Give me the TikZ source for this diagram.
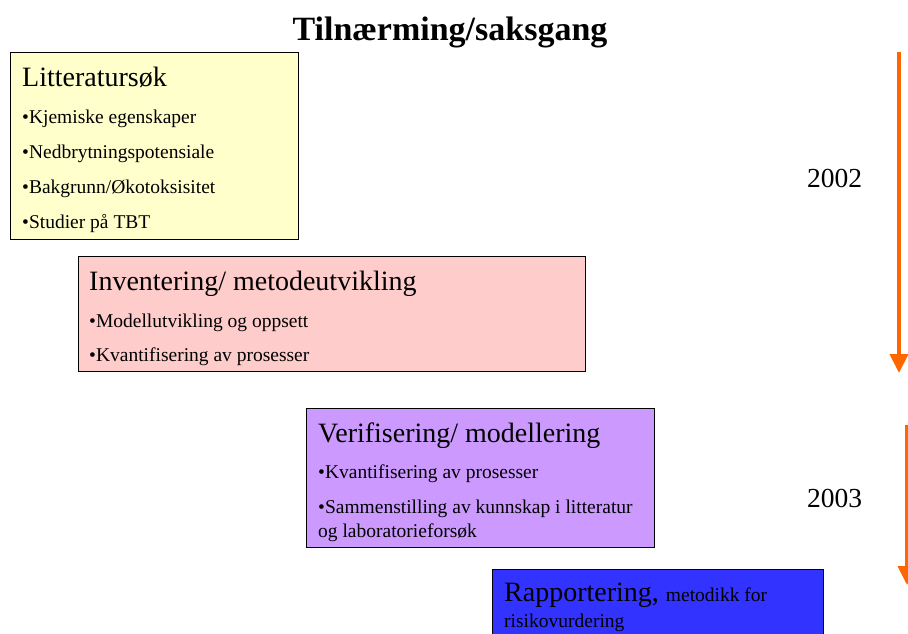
\documentclass[tikz,border=0pt]{standalone}
\usepackage{fontspec}
\setmainfont{Liberation Serif}
\usetikzlibrary{arrows.meta}
\definecolor{litfill}{HTML}{FFFFCC}
\definecolor{invfill}{HTML}{FFCCCC}
\definecolor{verfill}{HTML}{CC99FF}
\definecolor{repfill}{HTML}{3333FF}
\definecolor{timeline}{HTML}{FF6600}
\tikzset{
  phase/.style={draw=black, line width=1pt, anchor=north west, inner sep=0pt},
  head/.style={anchor=base west, inner sep=0pt, font=\fontsize{28}{31}\selectfont},
  item/.style={anchor=base west, inner sep=0pt, font=\fontsize{19.5}{22}\selectfont},
  year/.style={anchor=base west, inner sep=0pt, font=\fontsize{27.5}{31}\selectfont},
  period/.style={draw=timeline, line width=4pt, -{Triangle[width=18pt,length=19pt]}},
}
\begin{document}
\begin{tikzpicture}[x=1pt,y=-1pt]
  \useasboundingbox (0,0) rectangle (908,633);
  \clip (0,0) rectangle (908,633);

  % title
  \node (title) [anchor=base, inner sep=0pt, font=\bfseries\fontsize{34}{38}\selectfont] at (450,40) {Tilnærming/saksgang};

  % phase boxes
  \node (lit) [phase, fill=litfill, minimum width=288pt, minimum height=187pt] at (10,52) {};
  \node (inv) [phase, fill=invfill, minimum width=507pt, minimum height=115pt] at (78,256) {};
  \node (ver) [phase, fill=verfill, minimum width=348pt, minimum height=139pt] at (306,408) {};
  \node (rep) [phase, fill=repfill, minimum width=331pt, minimum height=90pt] at (492,569) {};

  % literature search
  \node (litH) [head] at (22,86) {Litteratursøk};
  \node (lit1) [item] at (22,123) {•Kjemiske egenskaper};
  \node (lit2) [item] at (22,158) {•Nedbrytningspotensiale};
  \node (lit3) [item] at (22,193) {•Bakgrunn/Økotoksisitet};
  \node (lit4) [item] at (22,228) {•Studier på TBT};

  % inventory / method development
  \node (invH) [head] at (89,290) {Inventering/ metodeutvikling};
  \node (inv1) [item] at (89,327) {•Modellutvikling og oppsett};
  \node (inv2) [item] at (89,361) {•Kvantifisering av prosesser};

  % verification / modelling
  \node (verH) [head] at (318,442) {Verifisering/ modellering};
  \node (ver1) [item] at (318,478) {•Kvantifisering av prosesser};
  \node (ver2) [item] at (318,513) {•Sammenstilling av kunnskap i litteratur};
  \node (ver3) [item] at (318,537) {og laboratorieforsøk};

  % reporting
  \node (repH) [head] at (504,601) {Rapportering, {\fontsize{19.5}{22}\selectfont metodikk for}};
  \node (rep1) [item] at (504,627) {risikovurdering};

  % years and timeline arrows
  \node (y2002) [year] at (807,187) {2002};
  \node (y2003) [year] at (807,507) {2003};
  \coordinate (a1s) at (899,52);
  \coordinate (a1e) at (899,373);
  \coordinate (a2s) at (907,425);
  \coordinate (a2e) at (907,585);
  \draw[period] (a1s) -- (a1e);
  \draw[period] (a2s) -- (a2e);
\end{tikzpicture}
\end{document}
